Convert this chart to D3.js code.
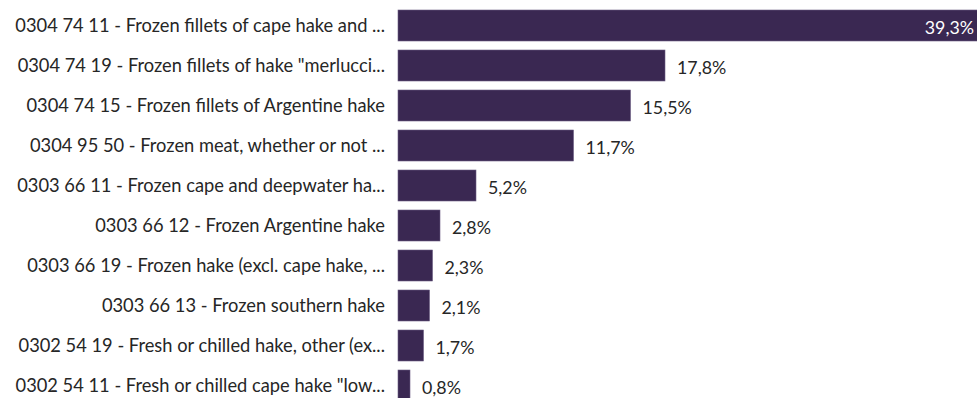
<!DOCTYPE html>
<html>
<head>
<meta charset="utf-8">
<script src="https://cdn.jsdelivr.net/npm/d3@7"></script>
<style>
  html, body { margin: 0; padding: 0; background: #ffffff; }
  svg { display: block; }
</style>
</head>
<body>
<svg id="chart" width="977" height="398"></svg>
<script>
// Share of hake imports by CN product code
const categories = [
  "0304 74 11 - Frozen fillets of cape hake and ...",
  "0304 74 19 - Frozen fillets of hake \"merlucci...",
  "0304 74 15 - Frozen fillets of Argentine hake",
  "0304 95 50 - Frozen meat, whether or not ...",
  "0303 66 11 - Frozen cape and deepwater ha...",
  "0303 66 12 - Frozen Argentine hake",
  "0303 66 19 - Frozen hake (excl. cape hake, ...",
  "0303 66 13 - Frozen southern hake",
  "0302 54 19 - Fresh or chilled hake, other (ex...",
  "0302 54 11 - Fresh or chilled cape hake \"low..."
];
const shares = [39.3, 17.8, 15.5, 11.7, 5.2, 2.8, 2.3, 2.1, 1.7, 0.8];

const W = 977, H = 398;
const font = "Lato, 'Open Sans', sans-serif";
const svg = d3.select("#chart");

const y = d3.scaleBand()
  .domain(categories)
  .range([5.5, 405.5])
  .paddingInner(0.225)
  .paddingOuter(0.1125);

const x = d3.scaleLinear()
  .domain([0, 40])
  .range([398, 998]);

const fmt = d3.formatLocale({ decimal: ",", thousands: ".", grouping: [3], currency: ["", "€"] }).format(".1f");

// Category labels, right-aligned against the bars
svg.append("g")
  .selectAll("text")
  .data(categories)
  .join("text")
  .attr("x", 385)
  .attr("y", d => y(d) + y.bandwidth() / 2)
  .attr("dy", "0.35em")
  .attr("text-anchor", "end")
  .attr("font-family", font)
  .attr("font-size", 18.3)
  .attr("fill", "#262626")
  .text(d => d);

// Bars
const rows = categories.map((c, i) => ({ c, v: shares[i] }));
svg.append("g")
  .selectAll("rect")
  .data(rows)
  .join("rect")
  .attr("x", x(0))
  .attr("y", d => y(d.c))
  .attr("width", d => x(d.v) - x(0))
  .attr("height", y.bandwidth())
  .attr("fill", "#3a2852")
  .attr("stroke", "#6b5d82")
  .attr("stroke-width", 0.6);

// Value labels: outside the bar, or inside when it would run off the edge
const labels = svg.append("g")
  .selectAll("text")
  .data(rows)
  .join("text")
  .attr("y", d => y(d.c) + y.bandwidth() / 2 + 2)
  .attr("dy", "0.35em")
  .attr("font-family", font)
  .attr("font-size", 17.8)
  .text(d => fmt(d.v) + "%");

labels.each(function (d) {
  const t = d3.select(this);
  const w = this.getComputedTextLength();
  const end = x(d.v);
  if (end + 12 + w > W) {
    t.attr("x", W - 3).attr("text-anchor", "end").attr("fill", "#ffffff");
  } else {
    t.attr("x", end + 12).attr("text-anchor", "start").attr("fill", "#262626");
  }
});
</script>
</body>
</html>
